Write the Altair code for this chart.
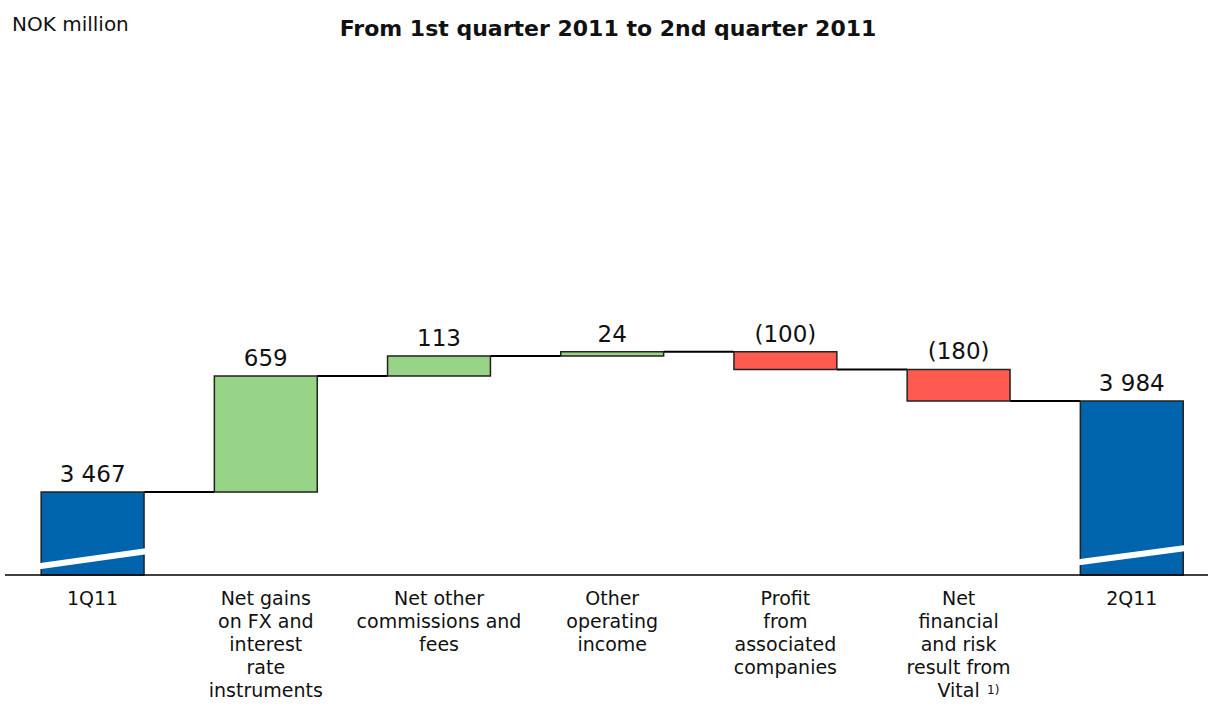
import altair as alt
import pandas as pd

categories = ["1Q11", "Net gains\non FX and\ninterest\nrate\ninstruments",
              "Net other\ncommissions and\nfees", "Other\noperating\nincome",
              "Profit\nfrom\nassociated\ncompanies",
              "Net\nfinancial\nand risk\nresult from\nVital", "2Q11"]
values = [3467, 659, 113, 24, -100, -180, 3984]
kinds = ["total", "up", "up", "up", "down", "down", "total"]
value_labels = ["3 467", "659", "113", "24", "(100)", "(180)", "3 984"]

AXIS_BASE = 2995
Y_TOP = 5921
HALF = 0.297

rows = []
running = 0
for i, (c, v, k, lab) in enumerate(zip(categories, values, kinds, value_labels)):
    if k == "total":
        start, end = AXIS_BASE, v
        running = v
    else:
        start = running
        end = running + v
        running = end
    rows.append(dict(idx=i, cat=c, start=start, end=end, top=max(start, end),
                     kind=k, label=lab, x0=i - HALF, x1=i + HALF))
df = pd.DataFrame(rows)

conn = pd.DataFrame([dict(x0=i + HALF, x1=i + 1 - HALF, level=df.loc[i, "end"])
                     for i in range(len(df) - 1)])

# break marks on the total bars (value units)
brk = pd.DataFrame([
    dict(x0=-0.34, x1=0.36, y0=3040, y1=3137),
    dict(x0=6 - 0.34, x1=6 + 0.40, y0=3063, y1=3160),
])

W, H = 1202, 515
xs = alt.Scale(domain=[-0.5, 6.44], nice=False, zero=False)
ys = alt.Scale(domain=[AXIS_BASE, Y_TOP], nice=False, zero=False)
FONT = "DejaVu Sans"

base = alt.Chart(df)

connectors = alt.Chart(conn).mark_rule(color="black", strokeWidth=2).encode(
    x=alt.X("x0:Q", scale=xs, axis=None), x2="x1:Q",
    y=alt.Y("level:Q", scale=ys, axis=None))

bars = base.mark_rect(stroke="#222222", strokeWidth=1.5).encode(
    x=alt.X("x0:Q", scale=xs, axis=None), x2="x1:Q",
    y=alt.Y("start:Q", scale=ys, axis=None), y2="end:Q",
    color=alt.Color("kind:N", scale=alt.Scale(domain=["total", "up", "down"],
                    range=["#0064AD", "#98D488", "#FF5A50"]), legend=None))

breaks = alt.Chart(brk).mark_rule(color="white", strokeWidth=6).encode(
    x=alt.X("x0:Q", scale=xs, axis=None), x2="x1:Q",
    y=alt.Y("y0:Q", scale=ys, axis=None), y2="y1:Q")

axis_line = alt.Chart(pd.DataFrame({"v": [AXIS_BASE]})).mark_rule(
    color="black", strokeWidth=1.5).encode(
    y=alt.Y("v:Q", scale=ys, axis=None), x=alt.value(-1), x2=alt.value(W))

vlabels = base.mark_text(font=FONT, fontSize=23, baseline="alphabetic", dy=-10,
                         color="#111111").encode(
    x=alt.X("idx:Q", scale=xs, axis=None),
    y=alt.Y("top:Q", scale=ys, axis=None), text="label:N")

clabels = base.mark_text(font=FONT, fontSize=19, baseline="top", lineBreak="\n",
                         lineHeight=23, color="#111111").encode(
    x=alt.X("idx:Q", scale=xs, axis=None), y=alt.value(H + 15), text="cat:N")

foot = alt.Chart(pd.DataFrame({"t": ["1)"]})).mark_text(
    font=FONT, fontSize=12, align="left", baseline="middle", color="#111111").encode(
    x=alt.value(987 - 6), y=alt.value(690 - 60), text="t:N")

title = alt.Chart(pd.DataFrame({"t": ["From 1st quarter 2011 to 2nd quarter 2011"]})).mark_text(
    font=FONT, fontSize=22, fontWeight="bold", align="center", baseline="middle",
    color="#111111").encode(x=alt.value(608 - 6), y=alt.value(29 - 60), text="t:N")

unit = alt.Chart(pd.DataFrame({"t": ["NOK million"]})).mark_text(
    font=FONT, fontSize=20, align="left", baseline="middle", color="#111111").encode(
    x=alt.value(12 - 6), y=alt.value(25 - 60), text="t:N")

chart = alt.layer(connectors, bars, breaks, axis_line, vlabels, clabels, foot,
                  title, unit).properties(
    width=W, height=H,
    autosize=alt.AutoSizeParams(type="none"),
    padding={"left": 6, "top": 60, "right": 0, "bottom": 131},
    background="white",
).configure_view(stroke=None)

chart.save("out.html", embed_options={"renderer": "svg", "actions": False})
